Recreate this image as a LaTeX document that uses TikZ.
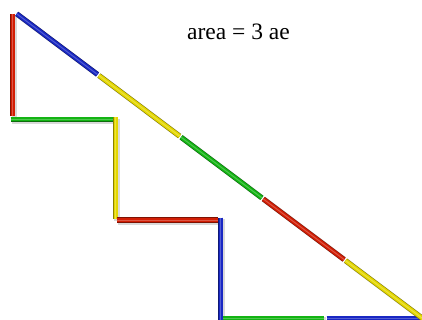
\documentclass[tikz,border=0pt]{standalone}
\usepackage{fontspec}
\setmainfont{Liberation Serif}
\begin{document}
\definecolor{rodred}{RGB}{210,30,5}
\definecolor{rodblue}{RGB}{25,40,195}
\definecolor{rodyellow}{RGB}{228,215,0}
\definecolor{rodgreen}{RGB}{20,180,20}
\newcommand\myrod[3]{%
  \draw[rodshadow] #2 -- #3;
  \draw[rodedge=#1] #2 -- #3;
  \draw[rodbody=#1] #2 -- #3;
  \draw[rodshine=#1] #2 -- #3;
}
\begin{tikzpicture}[x=1pt,y=-1pt,
  rodshadow/.style={line width=5.5pt,black,opacity=0.15,shift={(1.6,1.8)}},
  rodedge/.style={line width=5.2pt,#1!60!black},
  rodbody/.style={line width=4pt,#1},
  rodshine/.style={line width=1pt,#1!75!white}]
\useasboundingbox (0,0) rectangle (422,320);
% diagonal points
\coordinate (d0) at (16,13.3);
\coordinate (d1) at (98.2,75);
\coordinate (d2) at (180.4,136.7);
\coordinate (d3) at (262.6,198.4);
\coordinate (d4) at (344.8,260.1);
\coordinate (d5) at (427,321.8);
% staircase
\myrod{rodred}{(12.8,14)}{(12.8,116)}
\myrod{rodgreen}{(10.7,119.3)}{(113.5,119.3)}
\myrod{rodyellow}{(115.5,117.3)}{(115.5,219)}
\myrod{rodred}{(116.7,220)}{(218.3,220)}
\myrod{rodblue}{(220.8,217.5)}{(220.8,326)}
\myrod{rodgreen}{(222.7,318.3)}{(324,318.3)}
\myrod{rodblue}{(326.7,318.3)}{(430,318.3)}
% diagonal
\begin{scope}[shorten >=0.9pt,shorten <=0.9pt]
\myrod{rodblue}{(d0)}{(d1)}
\myrod{rodyellow}{(d1)}{(d2)}
\myrod{rodgreen}{(d2)}{(d3)}
\myrod{rodred}{(d3)}{(d4)}
\myrod{rodyellow}{(d4)}{(d5)}
\end{scope}
\node[anchor=base,inner sep=0pt,font=\rmfamily\fontsize{23.5}{28}\selectfont] (label) at (238.5,40) {area = 3 ae};
\end{tikzpicture}
\end{document}
